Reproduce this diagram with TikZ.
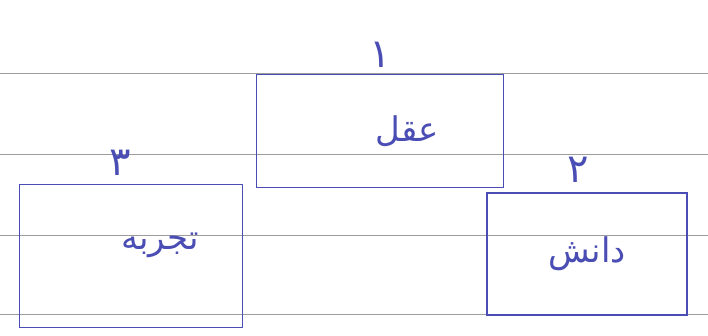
\documentclass[tikz,border=0pt]{standalone}
\usepackage{fontspec}
\usepackage{xcolor}
\usepackage{tikz}
\usetikzlibrary{
  positioning,
  calc
}
\TeXXeTstate=1
\newfontfamily\arabicfont[Script=Arabic]{DejaVu Sans}
\definecolor{inkBlue}{HTML}{4A4DB3}
\definecolor{ruleGray}{HTML}{9C9C9C}
\tikzset{
  conceptbox/.style={
    draw=inkBlue, line width=1.5pt, inner sep=0pt
  },
  word/.style={font=\arabicfont\fontsize{34}{40}\selectfont, text=inkBlue, inner sep=0pt},
  rank/.style={font=\arabicfont\fontsize{40}{46}\selectfont, text=inkBlue, inner sep=0pt},
  ruling/.style={ruleGray, line width=0.9pt}
}
\begin{document}
\begin{tikzpicture}[x=1pt, y=-1pt, node distance=8pt]
  \useasboundingbox (0,0) rectangle (708,335);
  % ruled paper
  \foreach \yy in {73,154,235,314}
    \draw[ruling] (0,\yy) -- (708,\yy);
  % boxes
  \node[conceptbox, minimum width=247pt, minimum height=113pt] (aql) at (380,131) {};
  \node[conceptbox, minimum width=223pt, minimum height=143pt] (tajrobe) at (131,256) {};
  \node[conceptbox, minimum width=200pt, minimum height=122pt] (danesh) at (587,254) {};
  % words
  \node[word] (aqltxt) at ($(aql.center)+(27,0)$) {\beginR عقل\endR};
  \node[word] (tajrobetxt) at ($(tajrobe.center)+(29,-11)$) {\beginR تجربه\endR};
  \node[word] (daneshtxt) at (danesh.center) {\beginR دانش\endR};
  % ranks
  \node[rank, above=6pt of aql] (aqlrank) {۱};
  \node[rank, above=8pt of tajrobe, xshift=-11pt] (tajroberank) {۳};
  \node[rank, above=10pt of danesh, xshift=-9pt] (daneshrank) {۲};
\end{tikzpicture}
\end{document}
